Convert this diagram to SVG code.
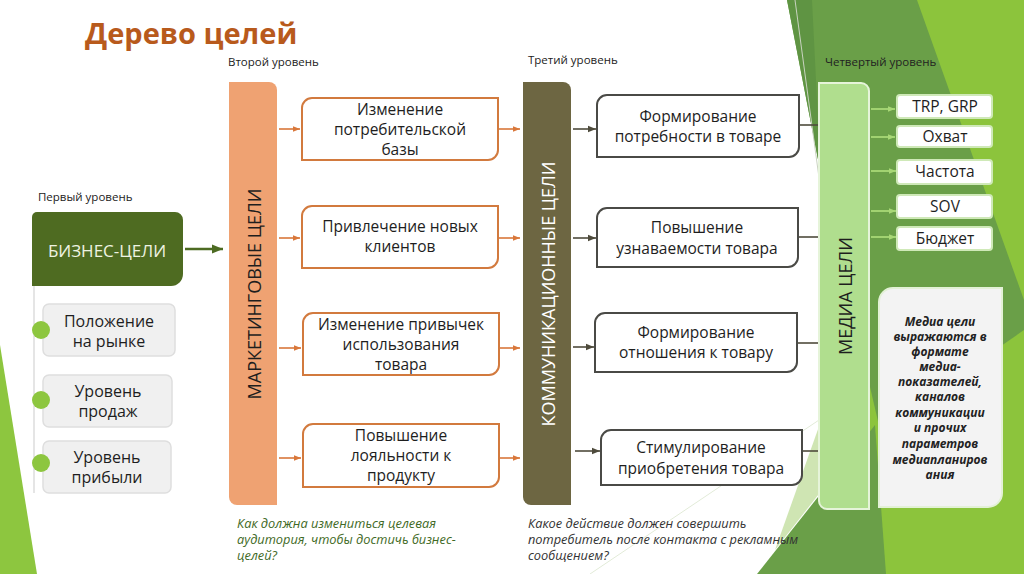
<svg xmlns="http://www.w3.org/2000/svg" width="1024" height="574" viewBox="0 0 1024 574">
<defs>
<style>
text{font-family:"Open Sans","DejaVu Sans",sans-serif;fill:#1e1e1e}
.lvl{font-size:11.5px;fill:#222}
.bx{font-size:15.5px;text-anchor:middle}
.sub{font-size:16px;text-anchor:middle}
.vt{font-size:18px;text-anchor:middle}
.mi{font-size:15.5px;text-anchor:middle}
.q{font-size:12.8px;font-style:italic}
.ds{font-size:12px;font-style:italic;font-weight:bold;text-anchor:middle;fill:#222}
.mbox{fill:#fff;stroke:#d27a3e;stroke-width:2}
.cbox{fill:#fff;stroke:#4a4a46;stroke-width:2}
.sbox{fill:#f0f0f0;stroke:#dedede;stroke-width:1.5}
.ibox{fill:#fff;stroke:#cfe9b8;stroke-width:2}
.dot{fill:#8dc63f}
.ao{stroke:#d9773a;stroke-width:1.6;fill:none}
.ad{stroke:#4e4b3c;stroke-width:1.6;fill:none}
.ag{stroke:#a8d876;stroke-width:1.8;fill:none}
</style>
<marker id="mo" viewBox="0 0 10 10" refX="10" refY="5" markerUnits="userSpaceOnUse" markerWidth="7" markerHeight="7" orient="auto"><path d="M0,1 L10,5 L0,9 z" fill="#d9773a"/></marker>
<marker id="md" viewBox="0 0 10 10" refX="10" refY="5" markerUnits="userSpaceOnUse" markerWidth="8" markerHeight="8" orient="auto"><path d="M0,1 L10,5 L0,9 z" fill="#4e4b3c"/></marker>
<marker id="mg" viewBox="0 0 10 10" refX="10" refY="5" markerUnits="userSpaceOnUse" markerWidth="7" markerHeight="7" orient="auto"><path d="M0,1 L10,5 L0,9 z" fill="#a8d876"/></marker>
<marker id="mb" viewBox="0 0 10 10" refX="10" refY="5" markerUnits="userSpaceOnUse" markerWidth="11" markerHeight="11" orient="auto"><path d="M0,1 L10,5 L0,9 z" fill="#4d6b22"/></marker>
</defs>

<g id="background">
<rect x="0" y="0" width="1024" height="574" fill="#ffffff"/>
<polygon points="0,345 37,574 0,574" fill="#8dc63f"/>
<polygon points="900,0 1024,0 1024,574 880,574 860,300" fill="#8cc43c"/>
<polygon points="787,0 917,0 1024,300 1024,330 880,430 822,180" fill="#6a9f48"/>
<polygon points="787,0 812,0 818,120 822,180" fill="#5f9443"/>
<polygon points="757,574 875,425 886,574" fill="#6a9f48"/>
<polygon points="775,550 822,418 822,490" fill="#cfe5b3"/>
<line x1="795" y1="0" x2="822" y2="200" stroke="#c9d3c0" stroke-width="1"/>
<line x1="590" y1="574" x2="822" y2="418" stroke="#e2ebd8" stroke-width="1"/>
</g>

<text x="85" y="44" style="font-size:29px;font-weight:bold;fill:#b85a1c">Дерево целей</text>
<text class="lvl" x="38" y="201">Первый уровень</text>
<text class="lvl" x="228" y="66">Второй уровень</text>
<text class="lvl" x="528" y="64">Третий уровень</text>
<text class="lvl" x="825" y="66">Четвертый уровень</text>

<g id="connectors">
<line x1="185" y1="249" x2="223" y2="249" stroke="#4d6b22" stroke-width="2.6" marker-end="url(#mb)"/>
<line x1="34" y1="286" x2="34" y2="493" stroke="#d4d4d4" stroke-width="1.2"/>
<line class="ao" x1="279" y1="129" x2="300" y2="129" marker-end="url(#mo)"/>
<line class="ao" x1="279" y1="238" x2="300" y2="238" marker-end="url(#mo)"/>
<line class="ao" x1="279" y1="348" x2="301" y2="348" marker-end="url(#mo)"/>
<line class="ao" x1="279" y1="458" x2="301" y2="458" marker-end="url(#mo)"/>
<line class="ao" x1="499" y1="129" x2="520" y2="129" marker-end="url(#mo)"/>
<line class="ao" x1="499" y1="238" x2="520" y2="238" marker-end="url(#mo)"/>
<line class="ao" x1="500" y1="348" x2="520" y2="348" marker-end="url(#mo)"/>
<line class="ao" x1="500" y1="458" x2="520" y2="458" marker-end="url(#mo)"/>
<line class="ad" x1="573" y1="129" x2="596" y2="129" marker-end="url(#md)"/>
<line class="ad" x1="573" y1="238" x2="596" y2="238" marker-end="url(#md)"/>
<line class="ad" x1="573" y1="347" x2="594" y2="347" marker-end="url(#md)"/>
<line class="ad" x1="575" y1="451" x2="600" y2="451" marker-end="url(#md)"/>
<line class="ad" x1="800" y1="125" x2="826" y2="125" marker-end="url(#md)"/>
<line class="ad" x1="799" y1="237" x2="826" y2="237" marker-end="url(#md)"/>
<line class="ad" x1="798" y1="343" x2="826" y2="343" marker-end="url(#md)"/>
<line class="ad" x1="803" y1="451" x2="826" y2="451" marker-end="url(#md)"/>
<line class="ag" x1="871" y1="109" x2="895" y2="109" marker-end="url(#mg)"/>
<line class="ag" x1="871" y1="137" x2="895" y2="137" marker-end="url(#mg)"/>
<line class="ag" x1="871" y1="171" x2="896" y2="171" marker-end="url(#mg)"/>
<line class="ag" x1="871" y1="211" x2="896" y2="211" marker-end="url(#mg)"/>
<line class="ag" x1="871" y1="237" x2="896" y2="237" marker-end="url(#mg)"/>
</g>

<g id="business">
<path d="M37,212 H175 A8,8 0 0 1 183,220 V274 A12,12 0 0 1 171,286 H32 V217 A5,5 0 0 1 37,212 Z" fill="#4e6b21"/>
<text x="107" y="257" style="font-size:17px;text-anchor:middle;fill:#eef3e2">БИЗНЕС-ЦЕЛИ</text>
</g>
<g id="sub1">
<rect class="sbox" x="43" y="304" width="132" height="52" rx="6"/>
<circle class="dot" cx="41" cy="330" r="9"/>
<text class="sub" x="109" y="327">Положение</text>
<text class="sub" x="109" y="347">на рынке</text>
</g>
<g id="sub2">
<rect class="sbox" x="43" y="375" width="129" height="52" rx="6"/>
<circle class="dot" cx="41" cy="400" r="9"/>
<text class="sub" x="108" y="397">Уровень</text>
<text class="sub" x="108" y="417">продаж</text>
</g>
<g id="sub3">
<rect class="sbox" x="43" y="441" width="128" height="52" rx="6"/>
<circle class="dot" cx="41" cy="463" r="9"/>
<text class="sub" x="107" y="463">Уровень</text>
<text class="sub" x="107" y="483">прибыли</text>
</g>

<g id="marketing">
<path d="M229,82 H269 A8,8 0 0 1 277,90 V505 H237 A8,8 0 0 1 229,497 Z" fill="#efa272"/>
<text class="vt" transform="translate(261,294) rotate(-90)">МАРКЕТИНГОВЫЕ ЦЕЛИ</text>
</g>
<g id="m1">
<path class="mbox" d="M312,98 H498 V150 A10,10 0 0 1 488,160 H302 V108 A10,10 0 0 1 312,98 Z"/>
<text class="bx" x="400" y="115">Изменение</text>
<text class="bx" x="400" y="135">потребительской</text>
<text class="bx" x="400" y="155">базы</text>
</g>
<g id="m2">
<path class="mbox" d="M312,206 H498 V258 A10,10 0 0 1 488,268 H302 V216 A10,10 0 0 1 312,206 Z"/>
<text class="bx" x="400" y="232">Привлечение новых</text>
<text class="bx" x="400" y="252">клиентов</text>
</g>
<g id="m3">
<path class="mbox" d="M313,313 H499 V365 A10,10 0 0 1 489,375 H303 V323 A10,10 0 0 1 313,313 Z"/>
<text class="bx" x="401" y="330">Изменение привычек</text>
<text class="bx" x="401" y="350">использования</text>
<text class="bx" x="401" y="370">товара</text>
</g>
<g id="m4">
<path class="mbox" d="M313,424 H499 V477 A10,10 0 0 1 489,487 H303 V434 A10,10 0 0 1 313,424 Z"/>
<text class="bx" x="401" y="441">Повышение</text>
<text class="bx" x="401" y="461">лояльности к</text>
<text class="bx" x="401" y="481">продукту</text>
</g>

<g id="communication">
<path d="M523,82 H563 A8,8 0 0 1 571,90 V505 H531 A8,8 0 0 1 523,497 Z" fill="#6d6642"/>
<text class="vt" transform="translate(555,294) rotate(-90)" style="fill:#ffffff">КОММУНИКАЦИОННЫЕ ЦЕЛИ</text>
</g>
<g id="c1">
<path class="cbox" d="M607,95 H799 V147 A10,10 0 0 1 789,157 H597 V105 A10,10 0 0 1 607,95 Z"/>
<text class="bx" x="698" y="122">Формирование</text>
<text class="bx" x="698" y="142">потребности в товаре</text>
</g>
<g id="c2">
<path class="cbox" d="M607,208 H798 V257 A10,10 0 0 1 788,267 H597 V218 A10,10 0 0 1 607,208 Z"/>
<text class="bx" x="697" y="233">Повышение</text>
<text class="bx" x="697" y="254">узнаваемости товара</text>
</g>
<g id="c3">
<path class="cbox" d="M605,313 H797 V362 A10,10 0 0 1 787,372 H595 V323 A10,10 0 0 1 605,313 Z"/>
<text class="bx" x="696" y="338">Формирование</text>
<text class="bx" x="696" y="358">отношения к товару</text>
</g>
<g id="c4">
<path class="cbox" d="M611,430 H802 V475 A10,10 0 0 1 792,485 H601 V440 A10,10 0 0 1 611,430 Z"/>
<text class="bx" x="701" y="453">Стимулирование</text>
<text class="bx" x="701" y="474">приобретения товара</text>
</g>

<g id="media">
<path d="M819,83 H861 A8,8 0 0 1 869,91 V509 H827 A8,8 0 0 1 819,501 Z" fill="#b0de8e" stroke="#e6f4da" stroke-width="2"/>
<text class="vt" transform="translate(852,296) rotate(-90)">МЕДИА ЦЕЛИ</text>
</g>
<g id="i1"><rect class="ibox" x="897" y="95" width="95" height="23" rx="3"/><text class="mi" x="945" y="112">TRP, GRP</text></g>
<g id="i2"><rect class="ibox" x="897" y="126" width="95" height="21" rx="3"/><text class="mi" x="945" y="142">Охват</text></g>
<g id="i3"><rect class="ibox" x="897" y="160" width="95" height="24" rx="3"/><text class="mi" x="945" y="177">Частота</text></g>
<g id="i4"><rect class="ibox" x="897" y="195" width="95" height="23" rx="3"/><text class="mi" x="945" y="212">SOV</text></g>
<g id="i5"><rect class="ibox" x="897" y="227" width="95" height="23" rx="3"/><text class="mi" x="945" y="244">Бюджет</text></g>

<g id="desc">
<path d="M893,288 H1002 V493 A14,14 0 0 1 988,507 H879 V302 A14,14 0 0 1 893,288 Z" fill="#f3f3f3" stroke="#e3f1d6" stroke-width="2"/>
<text class="ds" x="940" y="326">Медиа цели</text>
<text class="ds" x="940" y="341">выражаются в</text>
<text class="ds" x="940" y="356">формате</text>
<text class="ds" x="940" y="371">медиа-</text>
<text class="ds" x="940" y="386">показателей,</text>
<text class="ds" x="940" y="401">каналов</text>
<text class="ds" x="940" y="417">коммуникации</text>
<text class="ds" x="940" y="432">и прочих</text>
<text class="ds" x="940" y="448">параметров</text>
<text class="ds" x="940" y="464">медиапланиров</text>
<text class="ds" x="940" y="479">ания</text>
</g>

<g id="questions">
<text class="q" x="237" y="528" style="fill:#3f6a26">Как должна измениться целевая</text>
<text class="q" x="237" y="544" style="fill:#3f6a26">аудитория, чтобы достичь бизнес-</text>
<text class="q" x="237" y="560" style="fill:#3f6a26">целей?</text>
<text class="q" x="528" y="528" style="fill:#333">Какое действие должен совершить</text>
<text class="q" x="528" y="544" style="fill:#333">потребитель после контакта с рекламным</text>
<text class="q" x="528" y="560" style="fill:#333">сообщением?</text>
</g>
</svg>
